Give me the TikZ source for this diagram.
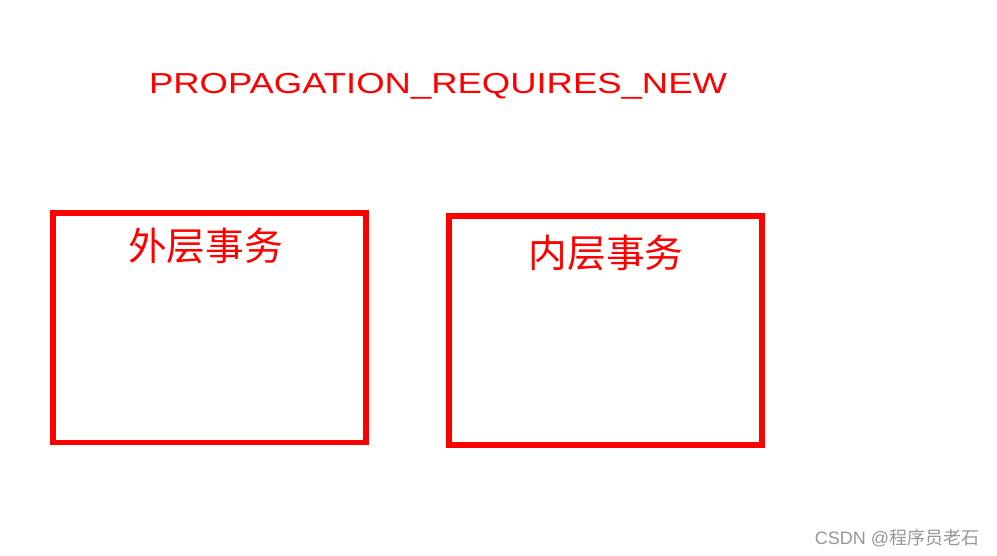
\documentclass[tikz,border=0pt]{standalone}
\usepackage{fontspec}
\setmainfont{Liberation Sans}
\newfontfamily\cjk{Noto Sans CJK SC}
\usepackage{xcolor}
\definecolor{boxred}{RGB}{255,0,0}
\definecolor{markgray}{RGB}{150,150,150}

\tikzset{
	txbox/.style = {draw = boxred, line width = 4.1pt, inner sep = 0pt,
		minimum width = 234.75pt},
	txlabel/.style = {text = boxred, inner sep = 0pt,
		font = \cjk\fontsize{29pt}{29pt}\selectfont},
}

\begin{document}
\begin{tikzpicture}[x = 0.75pt, y = -0.75pt]
	\useasboundingbox (0, 0) rectangle (997, 556);
	\node[anchor = base, text = boxred, inner sep = 0pt,
		font = \fontsize{21.7pt}{21.7pt}\selectfont] (title) at (438, 93.3)
		{\scalebox{1.26}[1]{PROPAGATION\_REQUIRES\_NEW}};
	\node[txbox, minimum height = 172.1pt] (outer) at (209.5, 327.75) {};
	\node[txbox, minimum height = 171.75pt] (inner) at (605.5, 330.5) {};
	\node[txlabel] (outerlabel) at (205.5, 245.5) {外层事务};
	\node[txlabel] (innerlabel) at (606, 252.5) {内层事务};
	\node[text = markgray, inner sep = 0pt,
		font = \fontsize{13.5pt}{13.5pt}\selectfont] (mark) at (897, 538)
		{CSDN @{\cjk 程序员老石}};
\end{tikzpicture}
\end{document}
